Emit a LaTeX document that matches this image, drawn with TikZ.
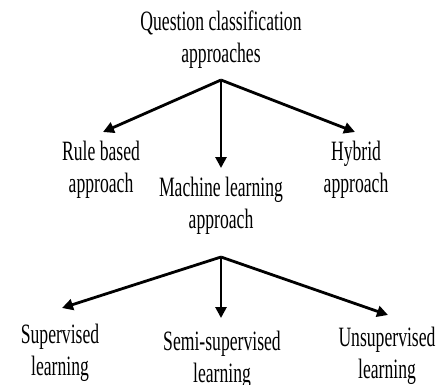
\documentclass[tikz,border=0pt]{standalone}
\usepackage{fontspec}
\newfontfamily\tnr[FakeStretch=0.63]{Liberation Serif}
\usetikzlibrary{arrows.meta}
\begin{document}
\begin{tikzpicture}[x=1pt,y=1pt,
  lbl/.style={font=\tnr\fontsize{28}{32}\selectfont, align=center, inner sep=0pt, anchor=base},
  arr/.style={line width=2.8pt, -{Triangle[length=11pt,width=11pt]}}]
\useasboundingbox (0,0) rectangle (445,384);
\node[lbl] (top) at (221,322) {Question classification\\approaches};
\node[lbl] (rule) at (101,192) {Rule based\\approach};
\node[lbl] (hyb) at (356,192) {Hybrid\\approach};
\node[lbl] (ml) at (221,156) {Machine learning\\approach};
\node[lbl] (sup) at (60,9) {Supervised\\learning};
\node[lbl] (semi) at (222,2) {Semi-supervised\\learning};
\node[lbl] (uns) at (387,6) {Unsupervised\\learning};
\coordinate (j1) at (221,304);
\coordinate (j2) at (221,127);
\coordinate (t1) at (103,252);
\coordinate (t2) at (221,216);
\coordinate (t3) at (355,252);
\coordinate (t4) at (62,76);
\coordinate (t5) at (221,66);
\coordinate (t6) at (388,69);
\draw[arr] (j1) -- (t1);
\draw[arr] (j1) -- (t2);
\draw[arr] (j1) -- (t3);
\draw[arr] (j2) -- (t4);
\draw[arr] (j2) -- (t5);
\draw[arr] (j2) -- (t6);
\end{tikzpicture}
\end{document}
